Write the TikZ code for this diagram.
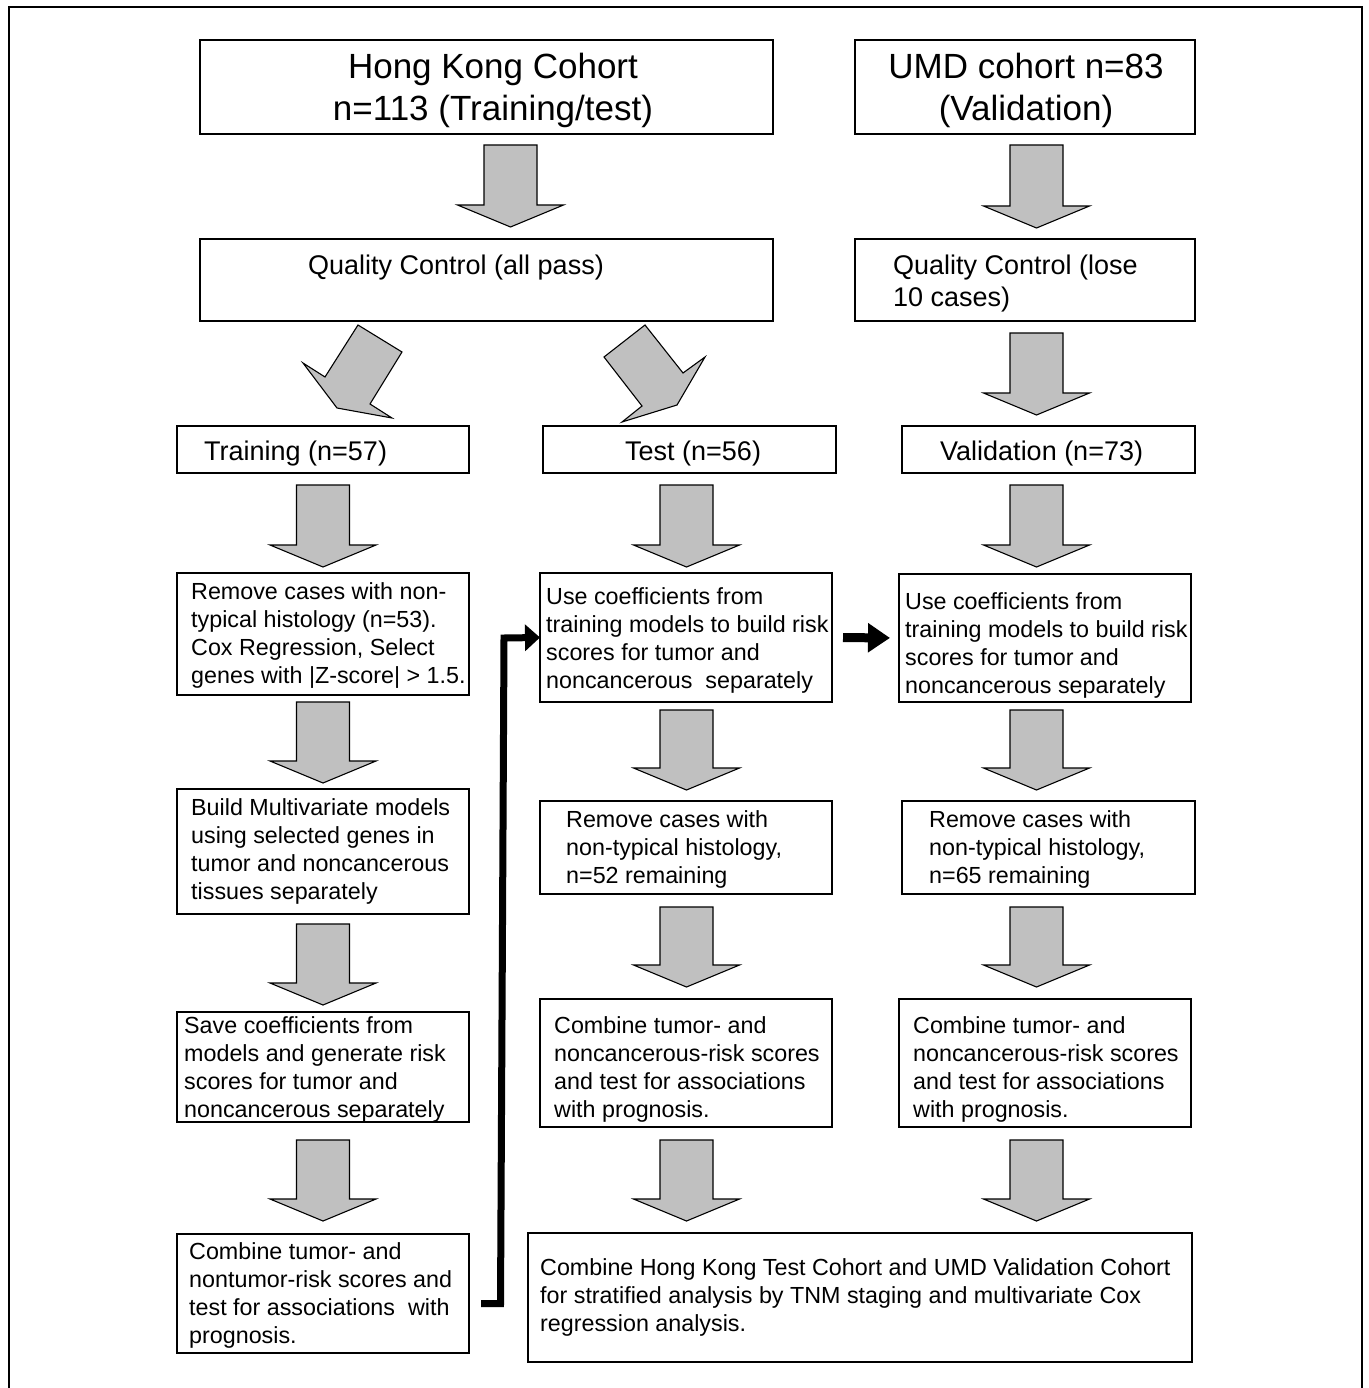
\documentclass[tikz,border=0pt]{standalone}
\usepackage{fontspec}
\setmainfont{Liberation Sans}
\usetikzlibrary{arrows.meta}
\definecolor{arrowgray}{RGB}{192,192,192}
\newcommand\bigfnt{\fontsize{35}{42}\selectfont}
\newcommand\midfnt{\fontsize{27}{32}\selectfont}
\newcommand\smfnt{\fontsize{23.3}{28}\selectfont}
% box: name, x1, y1, x2, y2
\newcommand\bx[5]{\node[box,minimum width={#4pt-#2pt},minimum height={#5pt-#3pt}] (#1) at ({(#2+#4)/2},{(#3+#5)/2}) {};}
% text: name, left x, first baseline, text
\newcommand\tx[4]{\node[txt,font=\smfnt] (#1) at (#2,{#3-19.6}) {\strut #4};}
\newcommand\tm[4]{\node[txt,font=\midfnt] (#1) at (#2,{#3-22.4}) {\strut #4};}
% vertical block arrow: centre x, top y, tip y
\newcommand\varrow[3]{\draw[barrow] ({#1-26.5},#2) -- ({#1+26.5},#2) -- ({#1+26.5},{#3-22}) -- ({#1+53},{#3-22}) -- (#1,#3) -- ({#1-53},{#3-22}) -- ({#1-26.5},{#3-22}) -- cycle;}
\begin{document}
\begin{tikzpicture}[x=1pt,y=-1pt,
  box/.style={draw=black,line width=1.3pt,inner sep=0pt,outer sep=0pt},
  txt/.style={anchor=north west,inner sep=0pt,align=left},
  barrow/.style={draw=black,fill=arrowgray,line width=1.1pt,line join=miter},
  bigconn/.style={line width=7pt,line join=miter,-{Triangle[length=15pt,width=26pt]}},
  midconn/.style={line width=9pt,-{Triangle[length=22pt,width=28pt]}}]
\useasboundingbox (0,0) rectangle (1368,1388);
% outer frame
\draw[line width=1.3pt] (9,1395) -- (9,7) -- (1362,7) -- (1362,1395);

% boxes
\bx{hk}{200}{40}{773}{134}
\bx{umd}{855}{40}{1195}{134}
\bx{qchk}{200}{239}{773}{321}
\bx{qcumd}{855}{239}{1195}{321}
\bx{train}{177}{426}{469}{473}
\bx{test}{543}{426}{836}{473}
\bx{valid}{902}{426}{1195}{473}
\bx{rem1}{177}{573}{469}{695}
\bx{build1}{177}{789}{469}{914}
\bx{save1}{177}{1012}{469}{1122}
\bx{cmb1}{177}{1234}{469}{1353}
\bx{use2}{540}{573}{832}{702}
\bx{rem2}{540}{801}{832}{894}
\bx{cmb2}{540}{999}{832}{1127}
\bx{use3}{899}{574}{1191}{702}
\bx{rem3}{902}{801}{1195}{894}
\bx{cmb3}{899}{999}{1191}{1127}
\bx{final}{528}{1233}{1192}{1362}

% texts
\node[anchor=north,inner sep=0pt,align=center,font=\bigfnt] (thk) at (493,{78-29.4}) {\strut Hong Kong Cohort\\n=113 (Training/test)};
\node[anchor=north,inner sep=0pt,align=center,font=\bigfnt] (tumd) at (1026,{78-29.4}) {\strut UMD cohort n=83\\(Validation)};
\tm{tqchk}{308}{274}{Quality Control (all pass)}
\tm{tqcumd}{893}{274}{Quality Control (lose\\10 cases)}
\tm{ttrain}{204}{460}{Training (n=57)}
\tm{ttest}{625}{460}{Test (n=56)}
\tm{tvalid}{940}{460}{Validation (n=73)}
\tx{trem1}{191}{599}{Remove cases with non-\\typical histology (n=53).\\Cox Regression, Select\\genes with |Z-score| > 1.5.}
\tx{tbuild1}{191}{815}{Build Multivariate models\\using selected genes in\\tumor and noncancerous\\tissues separately}
\tx{tsave1}{184}{1033}{Save coefficients from\\models and generate risk\\scores for tumor and\\noncancerous separately}
\tx{tcmb1}{189}{1259}{Combine tumor- and\\nontumor-risk scores and\\test for associations\ \ with\\prognosis.}
\tx{tuse2}{546}{604}{Use coefficients from\\training models to build risk\\scores for tumor and\\noncancerous\ \ separately}
\tx{tuse3}{905}{609}{Use coefficients from\\training models to build risk\\scores for tumor and\\noncancerous separately}
\tx{trem2}{566}{827}{Remove cases with\\non-typical histology,\\n=52 remaining}
\tx{trem3}{929}{827}{Remove cases with\\non-typical histology,\\n=65 remaining}
\tx{tcmb2}{554}{1033}{Combine tumor- and\\noncancerous-risk scores\\and test for associations\\with prognosis.}
\tx{tcmb3}{913}{1033}{Combine tumor- and\\noncancerous-risk scores\\and test for associations\\with prognosis.}
\tx{tfinal}{540}{1275}{Combine Hong Kong Test Cohort and UMD Validation Cohort\\for stratified analysis by TNM staging and multivariate Cox\\regression analysis.}

% block arrows
\varrow{510.5}{145}{227}
\varrow{1036.5}{145}{228}
\varrow{1036.5}{333}{415}
\draw[barrow] (358,325) -- (402,352) -- (370,404) -- (392,418) -- (337,408) -- (303,363) -- (325,377) -- cycle;
\draw[barrow] (645,325) -- (604,357) -- (642,406) -- (622,422) -- (677,405) -- (705,357) -- (683,373) -- cycle;
\varrow{323}{485}{567}
\varrow{323}{702}{783}
\varrow{323}{924}{1005}
\varrow{323}{1140}{1221}
\varrow{686.5}{485}{567}
\varrow{686.5}{710}{790}
\varrow{686.5}{907}{987}
\varrow{686.5}{1140}{1221}
\varrow{1036.5}{485}{567}
\varrow{1036.5}{710}{790}
\varrow{1036.5}{907}{987}
\varrow{1036.5}{1140}{1221}

% thick connectors
\coordinate (j1) at (481,1303.5);
\draw[bigconn] (j1) -- (500.5,1303.5) -- (504,638) -- (use2.west);
\draw[midconn,shorten <=11pt,shorten >=9pt] (use2.east) -- (use3.west);
\end{tikzpicture}
\end{document}
